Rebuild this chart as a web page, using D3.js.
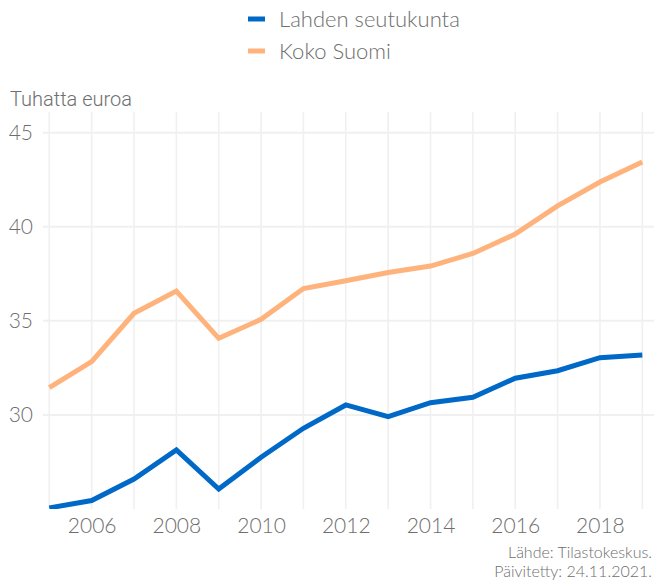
<!DOCTYPE html>
<html>
<head>
<meta charset="utf-8">
<script src="https://cdn.jsdelivr.net/npm/d3@7"></script>
<style>
  body { margin: 0; background: #fff; }
  svg { display: block; }
</style>
</head>
<body>
<div id="chart"></div>
<script>
// data
let years = [2005, 2006, 2007, 2008, 2009, 2010, 2011, 2012, 2013, 2014, 2015, 2016, 2017, 2018, 2019];
let lahti = [25.06, 25.45, 26.59, 28.14, 26.06, 27.75, 29.29, 30.53, 29.91, 30.65, 30.94, 31.95, 32.35, 33.04, 33.18];
let suomi = [31.45, 32.83, 35.40, 36.58, 34.07, 35.08, 36.72, 37.13, 37.57, 37.91, 38.58, 39.61, 41.11, 42.38, 43.44];
let seriesNames = ["Lahden seutukunta", "Koko Suomi"];
let seriesColors = ["#0068c6", "#ffb37c"];
let yTicks = [30, 35, 40, 45];
let xTicks = [2006, 2008, 2010, 2012, 2014, 2016, 2018];

let width = 654, height = 583;
let margin = { top: 112, right: 0, bottom: 74, left: 43 };

let svg = d3.select("#chart")
	.append("svg")
	.attr("width", width)
	.attr("height", height);

// scales
let xScale = d3.scaleLinear()
	.domain([2005, 2019])
	.range([49.3, 642.3]);
let yScale = d3.scaleLinear()
	.domain([25, 46.1])
	.range([height - margin.bottom, margin.top]);

let x0 = margin.left, x1 = width - margin.right;
let yBottom = height - margin.bottom;

// grid
let grid = svg.append("g");
grid.selectAll(".vgrid")
	.data(years)
	.enter().append("line")
	.attr("x1", d => xScale(d)).attr("x2", d => xScale(d))
	.attr("y1", margin.top).attr("y2", yBottom)
	.attr("stroke", "#f0f0f0").attr("stroke-width", 1.6);
grid.selectAll(".hgrid")
	.data(yTicks)
	.enter().append("line")
	.attr("x1", x0).attr("x2", x1)
	.attr("y1", d => yScale(d)).attr("y2", d => yScale(d))
	.attr("stroke", "#f0f0f0").attr("stroke-width", 2);

// axes
let xAxis = svg.append("g")
	.attr("transform", "translate(0," + yBottom + ")")
	.call(d3.axisBottom(xScale).tickValues(xTicks).tickFormat(d3.format("d")).tickSize(0).tickPadding(9));
xAxis.select(".domain").remove();
xAxis.selectAll("text")
	.attr("dy", "0.71em")
	.style("font-family", "Lato, 'Open Sans', sans-serif")
	.style("font-weight", 300)
	.style("font-size", "21px")
	.attr("fill", "#6e6e6e");

let yAxis = svg.append("g")
	.attr("transform", "translate(" + x0 + ",0)")
	.call(d3.axisLeft(yScale).tickValues(yTicks).tickSize(0).tickPadding(10));
yAxis.select(".domain").remove();
yAxis.selectAll("text")
	.style("font-family", "Lato, 'Open Sans', sans-serif")
	.style("font-weight", 300)
	.style("font-size", "21px")
	.attr("fill", "#6e6e6e");

// y axis title
svg.append("text")
	.attr("x", 10)
	.attr("y", 106)
	.style("font-family", "Roboto, 'Liberation Sans', sans-serif")
	.style("font-weight", 300)
	.style("font-size", "20px")
	.attr("fill", "#6f6f6f")
	.text("Tuhatta euroa");

// lines
let line = d3.line()
	.x((d, i) => xScale(years[i]))
	.y(d => yScale(d));

let clip = svg.append("clipPath").attr("id", "plotclip")
	.append("rect")
	.attr("x", x0).attr("y", margin.top)
	.attr("width", x1 - x0).attr("height", yBottom - margin.top);

let lines = svg.append("g").attr("clip-path", "url(#plotclip)");
[lahti, suomi].forEach(function (vals, i) {
	lines.append("path")
		.datum(vals)
		.attr("fill", "none")
		.attr("stroke", seriesColors[i])
		.attr("stroke-width", 5)
		.attr("stroke-linejoin", "miter")
		.attr("d", line);
});

// legend
let legend = svg.append("g");
seriesNames.forEach(function (name, i) {
	let ly = 19 + i * 32;
	legend.append("line")
		.attr("x1", 248).attr("x2", 265)
		.attr("y1", ly).attr("y2", ly)
		.attr("stroke", seriesColors[i])
		.attr("stroke-width", 5);
	legend.append("text")
		.attr("x", 279)
		.attr("y", ly)
		.attr("dy", "0.35em")
		.style("font-family", "Lato, 'Open Sans', sans-serif")
		.style("font-weight", 300)
		.style("font-size", "22px")
		.attr("fill", "#6e6e6e")
		.text(name);
});

// caption
let captionLines = ["Lähde: Tilastokeskus.", "Päivitetty: 24.11.2021."];
captionLines.forEach(function (t, i) {
	svg.append("text")
		.attr("x", 652)
		.attr("y", 558 + i * 19)
		.attr("text-anchor", "end")
		.style("font-family", "Lato, 'Open Sans', sans-serif")
		.style("font-weight", 300)
		.style("font-size", "16px")
		.attr("fill", "#6e6e6e")
		.text(t);
});
</script>
</body>
</html>
